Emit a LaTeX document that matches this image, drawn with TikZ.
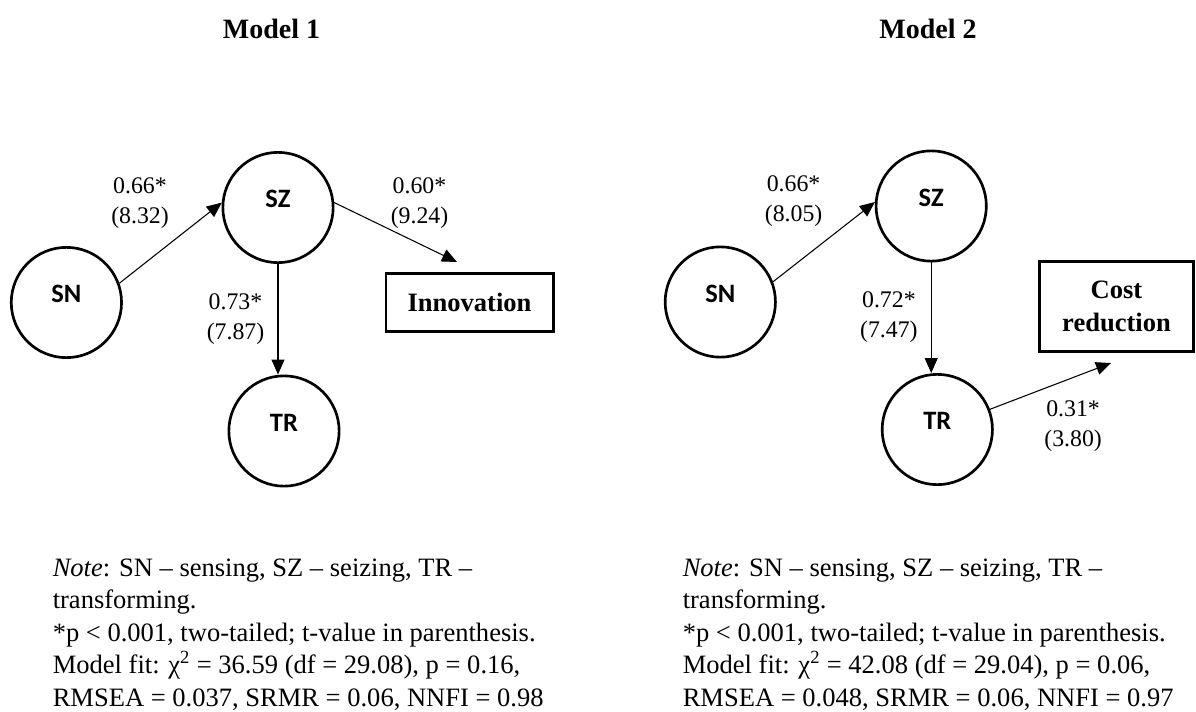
\documentclass[tikz,border=0pt]{standalone}
\usepackage{fontspec}
\setmainfont{Liberation Serif}
\newfontfamily\latentfont{Carlito}
\usetikzlibrary{arrows.meta}
\begin{document}
\begin{tikzpicture}[x=0.75pt,y=-0.75pt,
  latent/.style={circle,draw,line width=2pt,minimum size=82.7pt,inner sep=0pt,
    font=\latentfont\bfseries\fontsize{19.9}{24}\selectfont,
    text height=13pt,text depth=13pt},
  observed/.style={rectangle,draw,line width=2pt,inner sep=0pt,align=center,
    font=\bfseries\fontsize{19.9}{24.75}\selectfont},
  effect/.style={-{Triangle[length=11.25pt,width=9.75pt]},line width=0.8pt},
  coef/.style={anchor=north,align=center,inner sep=0pt,
    font=\fontsize{17.85}{22.5}\selectfont},
  heading/.style={anchor=base,inner sep=0pt,font=\bfseries\fontsize{21}{25}\selectfont},
  fitnote/.style={anchor=north west,align=left,inner sep=0pt,
    font=\fontsize{19.9}{24.4}\selectfont}]
\useasboundingbox (0,0) rectangle (1196,711);

% ---------------- Model 1 ----------------
\node[heading] (t1) at (271.5,38) {Model 1};
\node[latent] (sn1) at (66.4,302.5) {SN};
\node[latent] (sz1) at (278,207.5) {SZ};
\node[latent] (tr1) at (284,431) {TR};
\node[observed,minimum width=125.5pt,minimum height=43.7pt] (inn) at (469.5,302.5) {Innovation};
\coordinate (inntip) at (457,262);

\draw[effect] (sn1.20) -- (sz1.175);
\draw[effect] (sz1.5) -- (inntip);
\draw[effect] (sz1.south) -- (sz1.south |- tr1.north);

\node[coef] (c1a) at (140,172) {\strut 0.66*\\(8.32)};
\node[coef] (c1b) at (419.5,172) {\strut 0.60*\\(9.24)};
\node[coef] (c1c) at (235.5,288.7) {\strut 0.73*\\(7.87)};

\node[fitnote] (n1) at (52.5,553.2) {\strut\textit{Note}: SN – sensing, SZ – seizing, TR –\\transforming.\\{*}p < 0.001, two-tailed; t-value in parenthesis.\\Model fit: χ\textsuperscript{2} = 36.59 (df = 29.08), p = 0.16,\\RMSEA = 0.037, SRMR = 0.06, NNFI = 0.98};

% ---------------- Model 2 ----------------
\node[heading] (t2) at (928,38) {Model 2};
\node[latent] (sn2) at (720.3,302) {SN};
\node[latent] (sz2) at (931.2,206) {SZ};
\node[latent] (tr2) at (937.3,429.5) {TR};
\node[observed,minimum width=115.7pt,minimum height=67.7pt] (cost) at (1116.5,306.5) {Cost\\reduction};
\coordinate (costtip) at (1111,363);

\draw[effect] (sn2.21) -- (sz2.176);
\draw[effect] (sz2.south) -- (sz2.south |- tr2.north);
\draw[effect] (tr2.21) -- (costtip);

\node[coef] (c2a) at (793.6,170.3) {\strut 0.66*\\(8.05)};
\node[coef] (c2b) at (888.9,286.3) {\strut 0.72*\\(7.47)};
\node[coef] (c2c) at (1073.1,395.3) {\strut 0.31*\\(3.80)};

\node[fitnote] (n2) at (682.5,553.2) {\strut\textit{Note}: SN – sensing, SZ – seizing, TR –\\transforming.\\{*}p < 0.001, two-tailed; t-value in parenthesis.\\Model fit: χ\textsuperscript{2} = 42.08 (df = 29.04), p = 0.06,\\RMSEA = 0.048, SRMR = 0.06, NNFI = 0.97};
\end{tikzpicture}
\end{document}
